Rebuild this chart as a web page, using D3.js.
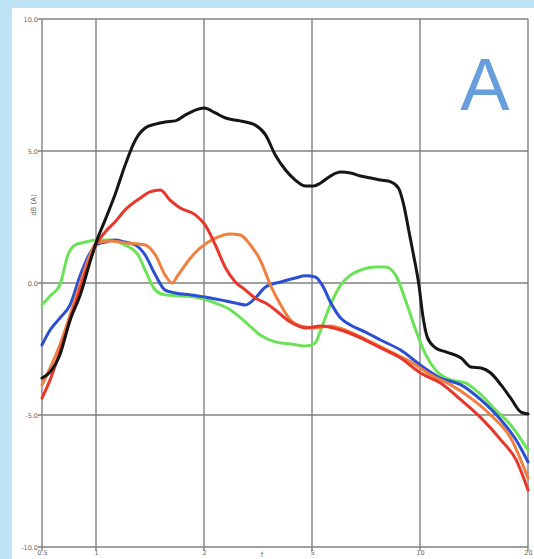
<!DOCTYPE html>
<html>
<head>
<meta charset="utf-8">
<script src="https://cdn.jsdelivr.net/npm/d3@7"></script>
<style>
  html, body { margin: 0; padding: 0; background: #bfe4f6; }
  svg { display: block; }
</style>
</head>
<body>
<svg id="chart" width="534" height="559"></svg>
<script>
// Axis ticks
const xTicks = [0, 1, 3, 5, 7, 9];
const xTickLabels = ["0.5", "1", "2", "5", "10", "20"];
const yTicks = [10, 5, 0, -5, -10];
const yTickLabels = ["10.0", "5.0", "0.0", "-5.0", "-10.0"];

// Black curve
const blackX = [0, 0.15, 0.33, 0.52, 0.71, 0.89, 1.0, 1.17, 1.35, 1.54, 1.73, 1.91, 2.10, 2.28, 2.47, 2.65, 2.84, 3.0, 3.21, 3.40, 3.67, 3.95, 4.14, 4.32, 4.51, 4.69, 4.88, 5.03, 5.16, 5.34, 5.53, 5.71, 5.90, 6.09, 6.27, 6.46, 6.60, 6.70, 6.79, 6.88, 6.98, 7.05, 7.14, 7.29, 7.48, 7.76, 7.94, 8.13, 8.31, 8.50, 8.68, 8.87, 9.0];
const blackY = [-3.60, -3.37, -2.73, -1.40, -0.45, 0.80, 1.52, 2.39, 3.33, 4.47, 5.42, 5.87, 6.02, 6.10, 6.14, 6.36, 6.55, 6.63, 6.44, 6.25, 6.14, 5.98, 5.61, 4.85, 4.28, 3.90, 3.67, 3.67, 3.79, 4.05, 4.20, 4.17, 4.05, 3.98, 3.90, 3.83, 3.60, 2.95, 2.01, 1.06, -0.08, -1.21, -2.08, -2.46, -2.61, -2.84, -3.18, -3.22, -3.41, -3.86, -4.36, -4.89, -4.96];

// Red curve
const redX = [0, 0.15, 0.33, 0.61, 0.89, 1.0, 1.17, 1.35, 1.54, 1.82, 2.00, 2.19, 2.37, 2.56, 2.84, 3.02, 3.21, 3.40, 3.58, 3.77, 3.95, 4.14, 4.32, 4.60, 4.88, 5.16, 5.53, 5.90, 6.27, 6.64, 7.01, 7.38, 7.76, 8.13, 8.50, 8.78, 9.0];
const redY = [-4.36, -3.67, -2.61, -0.83, 0.87, 1.44, 1.93, 2.31, 2.77, 3.22, 3.45, 3.52, 3.14, 2.84, 2.58, 2.20, 1.44, 0.57, 0.04, -0.27, -0.57, -0.76, -1.02, -1.48, -1.70, -1.63, -1.78, -2.08, -2.46, -2.84, -3.41, -3.79, -4.43, -5.11, -5.95, -6.70, -7.84];

// Orange curve
const orangeX = [0, 0.15, 0.33, 0.61, 0.89, 1.0, 1.26, 1.54, 1.91, 2.10, 2.28, 2.41, 2.52, 2.75, 2.93, 3.21, 3.49, 3.67, 3.86, 4.04, 4.23, 4.42, 4.60, 4.79, 5.03, 5.34, 5.71, 6.09, 6.46, 6.83, 7.20, 7.57, 7.94, 8.31, 8.68, 9.0];
const orangeY = [-3.86, -3.22, -2.35, -0.64, 1.06, 1.52, 1.59, 1.52, 1.44, 1.06, 0.30, 0.0, 0.30, 0.95, 1.33, 1.70, 1.86, 1.82, 1.44, 0.87, -0.08, -0.83, -1.40, -1.63, -1.70, -1.63, -1.86, -2.23, -2.61, -2.99, -3.48, -3.86, -4.36, -5.00, -5.87, -7.39];

// Blue curve
const blueX = [0, 0.15, 0.33, 0.52, 0.71, 0.89, 1.0, 1.17, 1.35, 1.54, 1.73, 1.91, 2.10, 2.28, 2.47, 2.75, 3.02, 3.30, 3.58, 3.77, 3.95, 4.14, 4.42, 4.69, 4.88, 5.06, 5.19, 5.34, 5.53, 5.71, 5.99, 6.27, 6.64, 7.01, 7.38, 7.76, 8.13, 8.50, 8.78, 9.0];
const blueY = [-2.35, -1.78, -1.33, -0.83, 0.30, 1.14, 1.44, 1.55, 1.63, 1.55, 1.44, 1.06, 0.30, -0.27, -0.38, -0.45, -0.53, -0.64, -0.76, -0.83, -0.57, -0.15, 0.04, 0.19, 0.27, 0.23, -0.08, -0.72, -1.33, -1.59, -1.86, -2.16, -2.54, -3.11, -3.60, -3.86, -4.43, -5.19, -5.95, -6.78];

// Green curve
const greenX = [0, 0.15, 0.33, 0.48, 0.61, 0.80, 1.0, 1.26, 1.54, 1.78, 1.91, 2.10, 2.28, 2.56, 2.93, 3.21, 3.49, 3.77, 4.04, 4.32, 4.60, 4.88, 5.06, 5.16, 5.34, 5.53, 5.71, 5.90, 6.18, 6.36, 6.55, 6.73, 6.92, 7.11, 7.29, 7.57, 7.85, 8.13, 8.40, 8.68, 9.0];
const greenY = [-0.83, -0.49, -0.08, 1.06, 1.44, 1.55, 1.63, 1.63, 1.44, 1.06, 0.49, -0.27, -0.45, -0.49, -0.57, -0.76, -1.02, -1.48, -1.97, -2.23, -2.31, -2.39, -2.27, -1.78, -0.83, -0.08, 0.30, 0.49, 0.61, 0.61, 0.30, -0.64, -1.78, -2.73, -3.30, -3.67, -3.79, -4.24, -4.81, -5.38, -6.33];

const series = [
  { x: greenX,  y: greenY,  color: "#6ae356" },
  { x: blueX,   y: blueY,   color: "#2b4fd2" },
  { x: orangeX, y: orangeY, color: "#f08040" },
  { x: redX,    y: redY,    color: "#e8362b" },
  { x: blackX,  y: blackY,  color: "#151515" }
];

const svg = d3.select("#chart");

// white sheet
svg.append("rect").attr("x", 12).attr("y", 8).attr("width", 522).attr("height", 551).attr("fill", "#ffffff");

const plotLeft = 42, plotRight = 528, plotTop = 19, plotBottom = 547;
const x = d3.scaleLinear().domain([0, 9]).range([plotLeft, plotRight]);
const y = d3.scaleLinear().domain([-10, 10]).range([plotBottom, plotTop]);

// grid
const grid = svg.append("g");
grid.selectAll("line.v").data(xTicks).join("line")
  .attr("class", "v")
  .attr("x1", d => x(d)).attr("x2", d => x(d))
  .attr("y1", plotTop).attr("y2", plotBottom + 4)
  .attr("stroke", "#808080").attr("stroke-width", 1.4);
grid.selectAll("line.h").data(yTicks).join("line")
  .attr("class", "h")
  .attr("x1", plotLeft - 4).attr("x2", plotRight)
  .attr("y1", d => y(d)).attr("y2", d => y(d))
  .attr("stroke", "#808080").attr("stroke-width", 1.4);

// tick labels
const yAxis = d3.axisLeft(y).tickValues(yTicks).tickSize(0).tickPadding(4)
  .tickFormat((d, i) => yTickLabels[i]);
const gy = svg.append("g").attr("transform", `translate(${plotLeft},0)`).call(yAxis);
gy.select(".domain").remove();
gy.selectAll("text").attr("fill", "#666").style("font-family", "DejaVu Sans, sans-serif").style("font-size", "6.5px");

const xAxis = d3.axisBottom(x).tickValues(xTicks).tickSize(0).tickPadding(3)
  .tickFormat((d, i) => xTickLabels[i]);
const gx = svg.append("g").attr("transform", `translate(0,${plotBottom})`).call(xAxis);
gx.select(".domain").remove();
gx.selectAll("text").attr("fill", "#666").style("font-family", "DejaVu Sans, sans-serif").style("font-size", "6.5px");

// axis titles
svg.append("text").attr("transform", "translate(36,205) rotate(-90)")
  .attr("text-anchor", "middle").attr("fill", "#666")
  .style("font-family", "DejaVu Sans, sans-serif").style("font-size", "7px")
  .text("dB (A)");
svg.append("text").attr("x", 262).attr("y", 557)
  .attr("text-anchor", "middle").attr("fill", "#666")
  .style("font-family", "DejaVu Sans, sans-serif").style("font-size", "7px")
  .text("f");

// curves
const line = d3.line().x(d => x(d[0])).y(d => y(d[1])).curve(d3.curveMonotoneX);
const plot = svg.append("g");
series.forEach(s => {
  const pts = s.x.map((v, i) => [v, s.y[i]]);
  plot.append("path").datum(pts)
    .attr("d", line)
    .attr("fill", "none")
    .attr("stroke", s.color)
    .attr("stroke-width", 3)
    .attr("stroke-linejoin", "round")
    .attr("stroke-linecap", "round");
});

// panel letter
svg.append("text").attr("x", 485).attr("y", 110)
  .attr("text-anchor", "middle").attr("fill", "#669fdb")
  .style("font-family", "Liberation Sans, Arial, sans-serif").style("font-size", "74px")
  .text("A");
</script>
</body>
</html>
